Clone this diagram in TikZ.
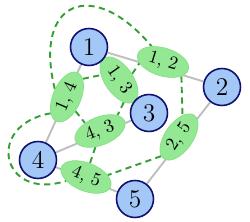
\documentclass[tikz,border=0pt]{standalone}
\usetikzlibrary{shapes.geometric,backgrounds}
\definecolor{vblue}{HTML}{A3C8F7}
\definecolor{vnavy}{HTML}{101070}
\definecolor{lgreen}{HTML}{94E894}
\definecolor{lgreenb}{HTML}{84E084}
\definecolor{dgreen}{HTML}{35A035}
\tikzset{
  vert/.style={circle,draw=vnavy,fill=vblue,line width=0.9pt,minimum size=0.74cm,
    inner sep=0pt,font=\fontsize{14.5}{16}\selectfont},
  pair/.style={ellipse,fill=lgreen,draw=lgreenb,line width=0.4pt,minimum width=1.06cm,
    minimum height=0.56cm,inner sep=0pt,font=\fontsize{10.5}{12}\selectfont},
  gedge/.style={draw=gray!50,line width=1.1pt},
  ledge/.style={draw=dgreen,line width=1.1pt,dash pattern=on 3.5pt off 2.5pt},
}
\begin{document}
\begin{tikzpicture}[x=0.02cm,y=0.02cm]
\useasboundingbox (0,0) rectangle (250,222);
% line graph nodes
\node[pair,rotate=-17] (e12) at (163,160) {1, 2};
\node[pair,rotate=-55] (e13) at (119,142) {1, 3};
\node[pair,rotate=67] (e14) at (67,125) {1, 4};
\node[pair,rotate=22] (e43) at (100,91) {4, 3};
\node[pair,rotate=55] (e25) at (179,85) {2, 5};
\node[pair,rotate=-22] (e45) at (86,45) {4, 5};
% graph nodes
\node[vert] (v1) at (89,175) {1};
\node[vert] (v2) at (222,135) {2};
\node[vert] (v3) at (149,109) {3};
\node[vert] (v4) at (38,62) {4};
\node[vert] (v5) at (135,23) {5};
\begin{scope}[on background layer]
\draw[gedge] (v1) -- (v2) (v1) -- (v3) (v1) -- (v4)
  (v2) -- (v5) (v4) -- (v3) (v4) -- (v5);
\draw[ledge] (e14.80) to[out=104,in=130,looseness=2.2] (e12.143);
\draw[ledge] (e14.-18) -- (e13.220);
\draw[ledge] (e13.80) -- (e12.200);
\draw[ledge] (e12.-21) -- (e25.26);
\draw[ledge] (e13.-23) -- (e43.20);
\draw[ledge] (e14.234) -- (e43.130);
\draw[ledge] (e14.158) to[out=190,in=198,looseness=2.5] (e45.213);
\draw[ledge] (e43.232) -- (e45.96);
\draw[ledge] (e25.172) -- (e45.27);
\end{scope}
\end{tikzpicture}
\end{document}
